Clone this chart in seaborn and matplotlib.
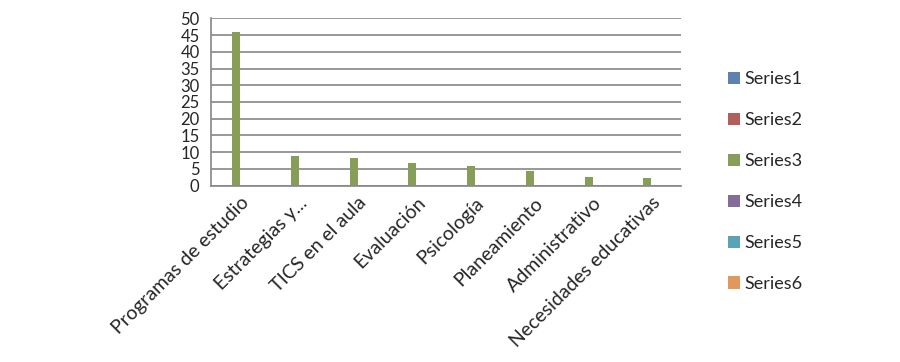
import pandas as pd
import matplotlib
matplotlib.use("Agg")
import matplotlib.pyplot as plt
import seaborn as sns

# datos del grafico
categorias = ["Programas de estudio", "Estrategias y...", "TICS en el aula", "Evaluación",
              "Psicología", "Planeamiento", "Administrativo", "Necesidades educativas"]
series = ["Series1", "Series2", "Series3", "Series4", "Series5", "Series6"]
valores_serie3 = [46, 8.8, 8.2, 6.9, 5.8, 4.4, 2.5, 2.3]
colores = ["#4F81BD", "#C0504D", "#8BA94E", "#8064A2", "#4BACC6", "#F79646"]

filas = []
for s in series:
    for i, c in enumerate(categorias):
        v = valores_serie3[i] if s == "Series3" else 0
        filas.append({"categoria": c, "serie": s, "valor": v})
df = pd.DataFrame(filas)

sns.set_style("white")
plt.rcParams["font.family"] = ["Lato", "DejaVu Sans"]

fig = plt.figure(figsize=(9, 3.62), dpi=100)
ax = fig.add_axes([210.7 / 900, 1 - 185.7 / 362, (680.7 - 210.7) / 900, (185.7 - 18.3) / 362])

sns.barplot(data=df, x="categoria", y="valor", hue="serie", palette=colores,
            order=categorias, hue_order=series, width=0.8, linewidth=0, ax=ax)

gris = "#868686"
ax.set_ylim(0, 50)
ax.set_xlim(-0.5, len(categorias) - 0.5)
ax.set_yticks(range(0, 51, 5))
ax.yaxis.grid(True, color=gris, linewidth=1.2)
ax.set_axisbelow(True)
ax.set_xlabel("")
ax.set_ylabel("")

for lado in ["top", "right"]:
    ax.spines[lado].set_visible(False)
for lado in ["left", "bottom"]:
    ax.spines[lado].set_color(gris)
    ax.spines[lado].set_linewidth(1.2)

ax.tick_params(axis="y", length=5, color=gris, labelsize=12, pad=3, width=1.2)
ax.set_xticks(range(len(categorias)))
ax.set_xticklabels(categorias, rotation=45, ha="right", rotation_mode="anchor", fontsize=14)
ax.tick_params(axis="x", which="major", length=0, pad=6)
ax.set_xticks([i - 0.5 for i in range(len(categorias) + 1)], minor=True)
ax.tick_params(axis="x", which="minor", length=5, color=gris, width=1.2)

handles, labels = ax.get_legend_handles_labels()
ax.legend_.remove()
fig.legend(handles, labels, loc="upper left", bbox_to_anchor=(712 / 900, 1 - 55 / 362),
           frameon=False, fontsize=13, labelspacing=1.38, handlelength=0.65,
           handleheight=0.65, handletextpad=0.25)

fig.savefig("out.png", dpi=100)
